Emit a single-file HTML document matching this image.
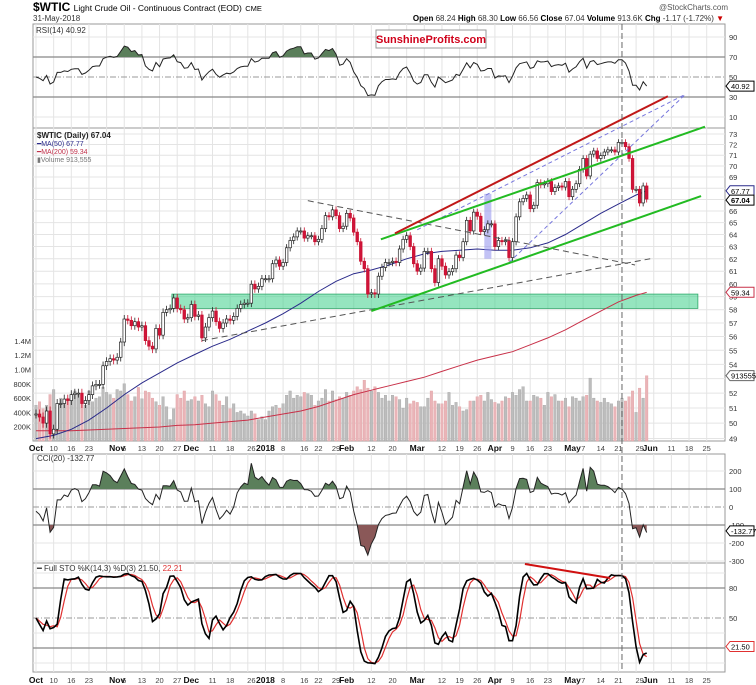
<!DOCTYPE html>
<html><head><meta charset="utf-8"><style>
body{margin:0;background:#fff;}
svg{display:block;font-family:"Liberation Sans",sans-serif;}
</style></head><body>
<svg id="chart" xmlns="http://www.w3.org/2000/svg" width="756" height="685" viewBox="0 0 756 685">
<rect width="756" height="685" fill="#fff"/>
<text x="33" y="11" font-size="12" font-weight="bold" fill="#000">$WTIC <tspan font-size="8.5" font-weight="normal">Light Crude Oil - Continuous Contract (EOD)</tspan> <tspan font-size="7.5" font-weight="normal">CME</tspan></text>
<text x="728" y="10" font-size="8" fill="#555" text-anchor="end">@StockCharts.com</text>
<text x="33" y="21" font-size="8" fill="#333">31-May-2018</text>
<text x="724" y="21" font-size="8" fill="#333" text-anchor="end"><tspan font-weight="bold" fill="#000">Open</tspan> 68.24 <tspan font-weight="bold" fill="#000">High</tspan> 68.30 <tspan font-weight="bold" fill="#000">Low</tspan> 66.56 <tspan font-weight="bold" fill="#000">Close</tspan> 67.04 <tspan font-weight="bold" fill="#000">Volume</tspan> 913.6K <tspan font-weight="bold" fill="#000">Chg</tspan> -1.17 (-1.72%) <tspan fill="#c00">▼</tspan></text>
<g id="grid"></g>
<g id="marks"></g>
<g id="labels"></g>
<g>
<rect x="376" y="30" width="110" height="18" fill="#fff" stroke="#999" stroke-width="1"/>
<text x="431" y="43" font-size="11" font-weight="bold" fill="#d0021b" text-anchor="middle">SunshineProfits.com</text>
</g>
<text x="36" y="33" font-size="8" fill="#333">RSI(14) 40.92</text>
<text x="37" y="138" font-size="8" fill="#222" font-weight="bold">$WTIC (Daily) 67.04</text>
<text x="37" y="146" font-size="7" fill="#2a2a8a">━MA(50) 67.77</text>
<text x="37" y="154" font-size="7" fill="#c0304a">━MA(200) 59.34</text>
<text x="37" y="162" font-size="7" fill="#777">▮Volume 913,555</text>
<text x="37" y="461" font-size="8" fill="#333">CCI(20) -132.77</text>
<text x="37" y="571" font-size="8" fill="#333">━ Full STO %K(14,3) %D(3) 21.50, <tspan fill="#e03030">22.21</tspan></text>
</svg>
<script>
// ---- data ----
const closes = [
50.6,50.4,50.0,50.8,49.3,49.6,51.3,51.3,51.6,51.5,51.9,52.0,52.0,51.3,51.5,51.9,52.5,52.6,52.6,53.9,54.2,54.4,
54.3,54.5,55.6,57.3,57.2,56.8,57.1,56.7,56.8,55.7,55.3,55.1,56.6,56.1,57.8,58.0,58.1,58.9,58.1,58.0,57.3,57.4,
58.4,57.5,57.6,55.9,56.7,57.4,57.9,57.1,56.6,57.0,57.3,57.2,57.5,58.1,58.4,58.5,58.5,59.97,59.6,59.8,60.4,
60.4,60.4,61.6,61.9,61.4,61.7,62.9,63.5,63.8,64.3,64.3,63.7,63.9,63.9,63.4,63.6,64.5,65.6,65.5,66.1,65.6,64.5,64.7,
65.8,65.4,64.2,63.4,61.8,61.2,59.2,59.3,59.2,60.6,61.3,61.7,61.7,61.8,61.7,62.8,63.6,63.9,63.0,61.6,
61.0,61.25,62.6,62.6,61.2,60.1,62.0,61.4,60.7,60.96,61.2,62.3,62.1,63.4,65.2,64.3,65.9,65.55,64.25,64.4,64.9,64.9,
63.0,63.5,63.4,63.5,62.1,63.4,65.5,66.8,67.1,67.4,66.2,66.5,68.5,68.3,68.4,68.6,67.7,68.05,68.2,68.1,68.6,
67.25,67.9,68.4,69.7,70.7,69.1,71.1,71.4,70.7,70.96,71.3,71.5,71.5,71.3,72.2,72.2,71.8,70.7,67.9,67.9,66.7,68.2,67.04];
const volumesK = [
500,550,450,500,650,720,480,600,550,600,580,700,640,560,500,700,550,600,620,750,680,650,
600,720,700,800,650,560,620,750,590,700,680,600,550,500,620,480,300,450,650,600,700,560,
580,620,560,640,520,480,700,650,560,500,620,450,520,400,420,380,350,420,380,300,340,
300,420,480,500,460,520,640,700,600,640,620,680,660,640,500,560,600,720,560,700,580,620,600,
680,640,700,760,720,850,740,700,760,680,600,640,560,640,620,580,460,600,520,560,
540,480,480,600,700,560,520,520,560,680,500,540,480,420,440,560,560,620,640,560,680,580,
540,520,560,620,600,680,640,720,760,560,560,640,620,600,500,680,620,650,560,560,600,
480,620,600,560,620,640,880,600,560,540,600,540,520,480,560,600,560,620,700,400,740,600,914];
const ma50Idx = [0,5,10,15,20,25,30,35,40,45,50,55,60,65,70,75,80,85,90,95,100,105,110,115,120,125,130,135,140,145,150,155,160,165,170,173];
const ma50 = [49.0,49.2,49.6,50.2,51.0,51.9,52.7,53.4,54.1,54.7,55.3,55.8,56.4,57.0,57.7,58.5,59.4,60.2,60.8,61.1,61.5,62.0,62.4,62.6,62.7,62.8,62.7,62.7,62.9,63.3,64.0,64.9,65.8,66.6,67.4,67.77];
const ma200 = [49.5,49.5,49.5,49.55,49.6,49.65,49.7,49.75,49.85,49.9,50.0,50.1,50.2,50.4,50.6,50.8,51.1,51.5,51.9,52.2,52.5,52.8,53.1,53.5,53.9,54.3,54.6,54.9,55.4,55.9,56.5,57.2,57.9,58.6,59.1,59.34];
const priceTicks = [49,50,51,52,54,55,56,57,58,59,60,61,62,63,64,65,66,69,70,71,72,73];
const volTicks = [200,400,600,800,1000,1200,1400];
const volTickLabels = ["200K","400K","600K","800K","1.0M","1.2M","1.4M"];
const dateIdx = [0,5,10,15,23,25,30,35,40,44,50,55,61,65,70,76,80,85,88,95,101,108,115,120,125,130,135,140,145,152,155,160,165,171,174,180,185,190];
const dateLabels = ["Oct","10","16","23","Nov","6","13","20","27","Dec","11","18","26","2018","8","16","22","29","Feb","12","20","Mar","12","19","26","Apr","9","16","23","May","7","14","21","29","Jun","11","18","25"];
const monthLabels = ["Oct","Nov","Dec","2018","Feb","Mar","Apr","May","Jun"];
// annotations (idx, price)
const redLine = [[101.7,64.1],[179,76.7]];
const greenUpper = [[97.7,63.6],[189.5,73.7]];
const greenLower = [[95,57.9],[188.4,67.3]];
const blueDash1 = [[134,61.7],[184,76.9]];
const blueDash2 = [[108,64.4],[184,76.9]];
const grayDown = [[77,66.9],[169.7,61.5]];
const grayUp = [[47,55.7],[174,62.0]];
const zone = [38.5,187.5,58.1,59.2];
const stoTrend = [[138.5,104],[162.6,90]];
const markerIdx = 166;

// ---- axes ----
const L=33,R=725;
const X=i=>36+i*3.53;
const P=p=>134+(Math.log(73)-Math.log(p))*764;
const RS=v=>127-v;
const C=v=>507-v*0.18;
const S=v=>668-v;
const V=v=>441-v*0.0715;
const NS='http://www.w3.org/2000/svg';
const grid=document.getElementById('grid'),marks=document.getElementById('marks'),labels=document.getElementById('labels');
function mk(tag,attrs,parent){const e=document.createElementNS(NS,tag);for(const k in attrs)e.setAttribute(k,attrs[k]);(parent||marks).appendChild(e);return e;}
function txt(x,y,s,attrs,parent){const e=mk('text',Object.assign({x:x,y:y,'font-size':8,fill:'#333'},attrs),parent||labels);e.textContent=s;return e;}

const panels=[[24,128,'rsi-panel'],[128,441,'price-panel'],[454,563,'cci-panel'],[563,672,'sto-panel']];
panels.forEach(p=>{
 const r=mk('rect',{x:L,y:p[0],width:R-L,height:p[1]-p[0],fill:'none',stroke:'#999','stroke-width':1},grid);
 
 
});
for(let i=0;i<=190;i+=5){
 [[24,441],[454,672]].forEach(s=>{
  const g=mk('line',{x1:X(i),x2:X(i),y1:s[0],y2:s[1],stroke:'#e4e4e4','stroke-width':1},grid);
  
  
 });
}
function hline(y,stroke,dash,name,w){const l=mk('line',{x1:L,x2:R,y1:y,y2:y,stroke:stroke,'stroke-width':w||1,'stroke-dasharray':dash||'none'},grid);return l;}
priceTicks.concat([53,67,68]).forEach(p=>hline(P(p),'#e4e4e4',null,'price-gridline'));
[10,90].forEach(v=>hline(RS(v),'#e4e4e4',null,'rsi-gridline'));
[30,70].forEach(v=>hline(RS(v),'#888',null,'rsi-threshold',1.2));
hline(RS(50),'#999','6,2,1,2','rsi-midline');
[200,-200,-300].forEach(v=>hline(C(v),'#e4e4e4',null,'cci-gridline'));
[100,-100].forEach(v=>hline(C(v),'#888',null,'cci-threshold',1.2));
hline(C(0),'#999','6,2,1,2','cci-zero-line');
[80,20].forEach(v=>hline(S(v),'#888',null,'sto-threshold',1.2));
hline(S(50),'#999','6,2,1,2','sto-midline');
[95,35,5].forEach(v=>hline(S(v),'#e4e4e4',null,'sto-gridline'));

[448,680].forEach((y,k)=>{
 dateIdx.forEach((d,j)=>{
  const isM=monthLabels.indexOf(dateLabels[j])>=0;
  const t=txt(X(d),y+3,dateLabels[j],{'text-anchor':'middle','font-size':isM?8.5:7.5,'font-weight':isM?'bold':'normal',fill:isM?'#111':'#444'});
  
  
 });
});
priceTicks.forEach(p=>{const t=txt(729,P(p)+3,String(p),{'font-size':7.5});});
[90,70,50,30,10].forEach(v=>{const t=txt(729,RS(v)+3,String(v),{'font-size':7.5});});
[200,100,0,-100,-200,-300].forEach(v=>{const t=txt(729,C(v)+3,String(v),{'font-size':7.5});});
[80,50].forEach(v=>{const t=txt(729,S(v)+3,String(v),{'font-size':7.5});});
volTicks.forEach((v,j)=>{const t=txt(31,V(v)+3,volTickLabels[j],{'font-size':7.5,'text-anchor':'end'});});
function tag(y,s,color,bold,name){
 const g=mk('path',{d:`M726 ${y} l4 -5 h24 v10 h-24 z`,fill:'#fff',stroke:color,'stroke-width':1},labels);
 
 
 const t=txt(731,y+3,s,{'font-size':7.5,fill:'#000','font-weight':bold?'bold':'normal'});
 
 
}

// ---- indicators from data ----
const n=closes.length;
const rsi=[];{let ag=0.3,al=0.3;rsi[0]=50;for(let i=1;i<n;i++){const d=closes[i]-closes[i-1];const g=Math.max(d,0),l=Math.max(-d,0);ag=(ag*13+g)/14;al=(al*13+l)/14;rsi[i]=100-100/(1+ag/al);}}
const cci=[];for(let i=0;i<n;i++){const s=Math.max(0,i-19);let w=closes.slice(s,i+1);if(w.length<12)w=closes.slice(0,12);const m=w.reduce((a,b)=>a+b,0)/w.length;const md=Math.max(0.4,w.reduce((a,b)=>a+Math.abs(b-m),0)/w.length);cci[i]=Math.max(-290,Math.min(250,(closes[i]-m)/(0.015*md)));}
const raw=[];for(let i=0;i<n;i++){const w=closes.slice(Math.max(0,i-13),i+1);const hi=Math.max(...w)+0.3,lo=Math.min(...w)-0.3;raw[i]=(closes[i]-lo)/(hi-lo)*100;}
const sma=(a,k)=>a.map((v,i)=>{const w=a.slice(Math.max(0,i-k+1),i+1);return w.reduce((x,y)=>x+y,0)/w.length;});
const stoK=sma(raw,3),stoD=sma(stoK,3);

function pathOf(arr,fy){return arr.map((v,i)=>(i?'L':'M')+X(i).toFixed(1)+' '+fy(v).toFixed(1)).join(' ');}
let cid=0;
function fillArea(arr,fy,thr,above,color,name){
 const id='clip'+(cid++);
 const cp=mk('clipPath',{id:id});
 const ty=fy(thr);
 mk('rect',above?{x:L,y:0,width:R-L,height:ty}:{x:L,y:ty,width:R-L,height:685-ty},cp);
 const d=pathOf(arr,fy)+` L${X(arr.length-1)} ${ty} L${X(0)} ${ty} Z`;
 const a=mk('path',{d:d,fill:color,'clip-path':`url(#${id})`});
 
 
}
fillArea(rsi,RS,70,true,'#5b7f5b','rsi-overbought-fill');
const rsiLine=mk('path',{d:pathOf(rsi,RS),fill:'none',stroke:'#222','stroke-width':1});


fillArea(cci,C,100,true,'#5b7f5b','cci-positive-fill');
fillArea(cci,C,-100,false,'#8a5858','cci-negative-fill');
const cciLine=mk('path',{d:pathOf(cci,C),fill:'none',stroke:'#222','stroke-width':1});


const dLine=mk('path',{d:pathOf(stoD,S),fill:'none',stroke:'#e03030','stroke-width':1.2});


const kLine=mk('path',{d:pathOf(stoK,S),fill:'none',stroke:'#000','stroke-width':1.6});


const stoTr=mk('line',{x1:X(stoTrend[0][0]),y1:S(stoTrend[0][1]),x2:X(stoTrend[1][0]),y2:S(stoTrend[1][1]),stroke:'#d01010','stroke-width':2});



const z=mk('rect',{x:X(zone[0]),width:X(zone[1])-X(zone[0]),y:P(zone[3]),height:P(zone[2])-P(zone[3]),fill:'#3ecf8a','fill-opacity':0.55,stroke:'#2fa86a','stroke-width':0.8});



closes.forEach((c,i)=>{
 const down=i>0&&c<closes[i-1];
 const b=mk('rect',{x:X(i)-1.3,width:2.6,y:V(volumesK[i]),height:441-V(volumesK[i]),fill:down?'#eab4b8':'#bdbdbd',stroke:down?'#d99':'#999','stroke-width':0.3});
 
 
});
function maPath(vals){return vals.map((v,j)=>(j?'L':'M')+X(ma50Idx[j]).toFixed(1)+' '+P(v).toFixed(1)).join(' ');}
const m200=mk('path',{d:maPath(ma200),fill:'none',stroke:'#c83048','stroke-width':1});


const m50=mk('path',{d:maPath(ma50),fill:'none',stroke:'#2a2a8a','stroke-width':1});



const br=mk('rect',{x:X(127),width:X(129)-X(127),y:P(67.5),height:P(62)-P(67.5),fill:'#9999ee','fill-opacity':0.6});



closes.forEach((c,i)=>{
 const o=i?closes[i-1]:c;
 const up=c>=o;
 const hi=Math.max(o,c)+0.3,lo=Math.min(o,c)-0.3;
 const w=mk('line',{x1:X(i),x2:X(i),y1:P(hi),y2:P(lo),stroke:up?'#222':'#c8102e','stroke-width':0.8});
 
 
 const top=P(Math.max(o,c)),bot=P(Math.min(o,c));
 const r=mk('rect',{x:X(i)-1.3,width:2.6,y:top,height:Math.max(1,bot-top),fill:up?'#fff':'#d0143a',stroke:up?'#222':'#c8102e','stroke-width':0.7});
 
 
});

function seg(a,color,w,dash,name){const l=mk('line',{x1:X(a[0][0]),y1:P(a[0][1]),x2:X(a[1][0]),y2:P(a[1][1]),stroke:color,'stroke-width':w,'stroke-dasharray':dash||'none'});}
seg(grayDown,'#555',1,'6,4','resistance-dashed-line');
seg(grayUp,'#555',1,'6,4','support-dashed-line');
seg(blueDash1,'#7777dd',1,'4,3','blue-dashed-line-lower');
seg(blueDash2,'#7777dd',1,'4,3','blue-dashed-line-upper');
seg(greenUpper,'#22bb22',2,null,'channel-upper-line');
seg(greenLower,'#22bb22',2,null,'channel-lower-line');
seg(redLine,'#c01818',2,null,'resistance-red-line');

const vm=mk('line',{x1:X(markerIdx),x2:X(markerIdx),y1:24,y2:672,stroke:'#666','stroke-width':1,'stroke-dasharray':'6,3'});



tag(RS(40.92),'40.92','#000',false,'rsi-value-tag');
tag(P(67.77),'67.77','#2a2a8a',false,'ma50-value-tag');
tag(P(67.04)+1,'67.04','#000',true,'close-value-tag');
tag(P(59.34),'59.34','#c83048',false,'ma200-value-tag');
tag(V(914),'913555','#666',false,'volume-value-tag');
tag(C(-132.77),'-132.77','#000',false,'cci-value-tag');
tag(S(21.5),'21.50','#e03030',false,'sto-value-tag');
</script>
</body></html>
